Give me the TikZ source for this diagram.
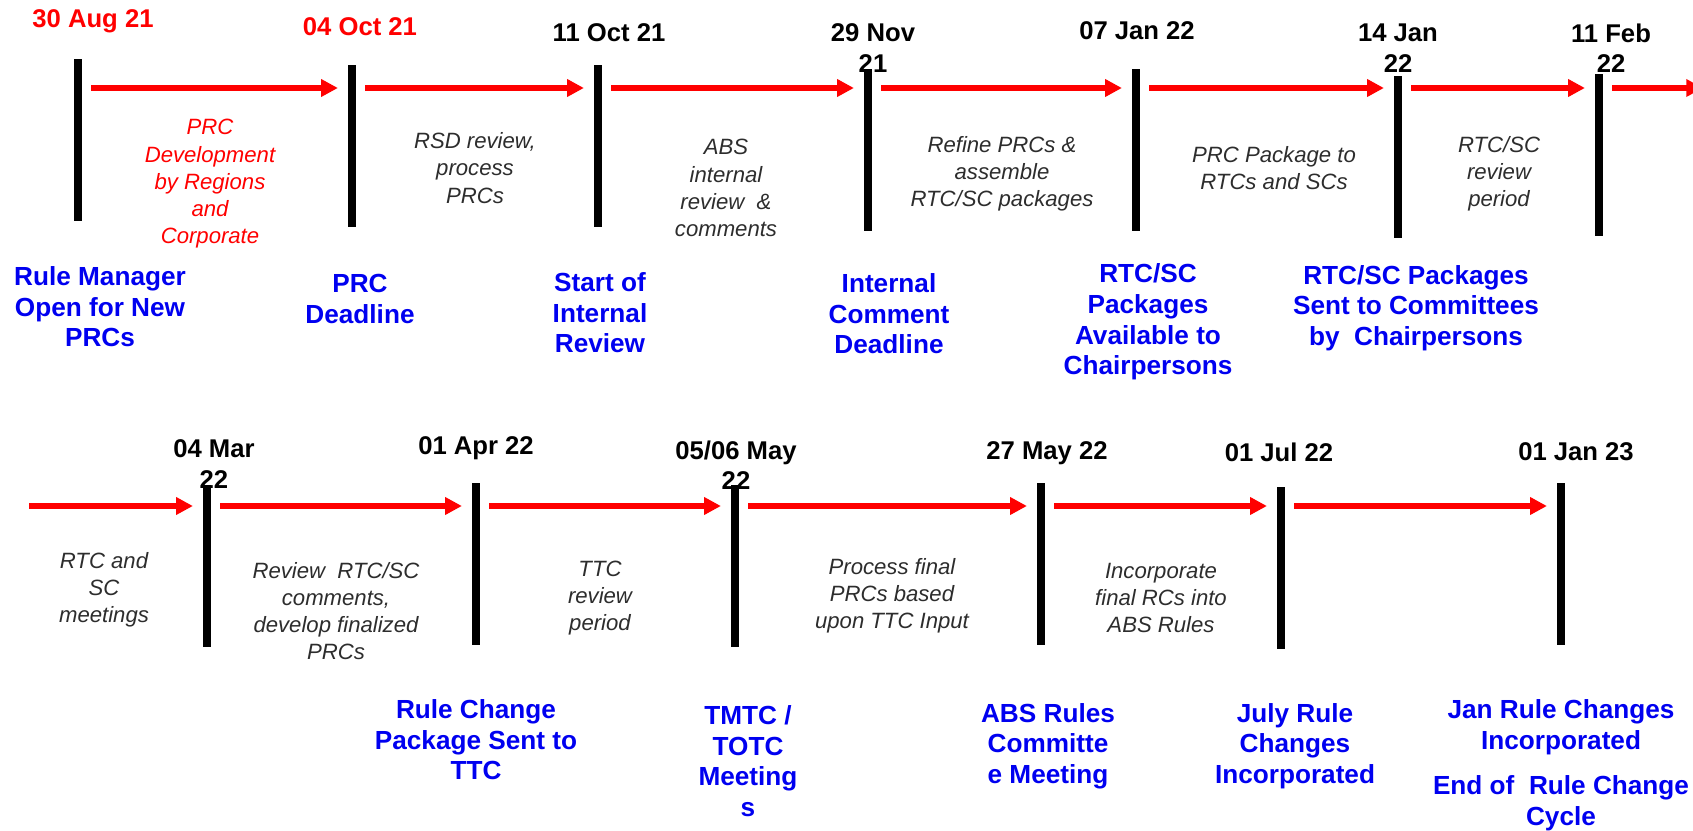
\documentclass[tikz,border=0pt]{standalone}
\usepackage{fontspec}
\setmainfont{Liberation Sans}
\usetikzlibrary{arrows.meta, positioning}
\definecolor{evblue}{RGB}{0,0,240}
\definecolor{notegray}{RGB}{45,45,45}
\tikzstyle{tick} = [rectangle, fill=black, inner sep=0pt, minimum width=0.15cm, minimum height=3.25cm]
\tikzstyle{flow} = [-{Triangle[length=9.5pt,width=9.5pt]}, line width=3.2pt, red, shorten <=0.18cm, shorten >=0.2cm]
\tikzstyle{datelbl} = [align=center, inner sep=0pt, font=\bfseries\fontsize{14.6pt}{17.4pt}\selectfont]
\tikzstyle{event} = [align=center, inner sep=0pt, text=evblue, font=\bfseries\fontsize{14.9pt}{17.4pt}\selectfont]
\tikzstyle{period} = [align=center, inner sep=0pt, text=notegray, font=\itshape\fontsize{12.6pt}{15.5pt}\selectfont]

\begin{document}
\begin{tikzpicture}[x=0.02cm, y=-0.02cm]
  \useasboundingbox (0,0) rectangle (1693,831);
  \coordinate (trow) at (0,88);
  \coordinate (brow) at (0,506);
  \coordinate (tend) at (1703,88);
  \coordinate (bstart) at (29,506);

  % first row: bars
  \node[tick] (b1) at (78,140) {};
  \node[tick] (b2) at (352,146) {};
  \node[tick] (b3) at (598,146) {};
  \node[tick] (b4) at (868,150) {};
  \node[tick] (b5) at (1136,150) {};
  \node[tick] (b6) at (1398,157) {};
  \node[tick] (b7) at (1599,155) {};

  % first row: dates
  \node[datelbl, text=red] (d1) at (93,21) {30 Aug 21};
  \node[datelbl, text=red] (d2) at (360,27) {04 Oct 21};
  \node[datelbl] (d3) at (609,33) {11 Oct 21};
  \node[datelbl] (d4) at (873,48) {29 Nov\\21};
  \node[datelbl] (d5) at (1137,31) {07 Jan 22};
  \node[datelbl] (d6) at (1398,48) {14 Jan\\22};
  \node[datelbl] (d7) at (1611,48) {11 Feb\\22};

  % first row: periods
  \node[period, text=red] (p1) at (210,184) {PRC\\Development\\by Regions\\and\\Corporate};
  \node[period] (p2) at (475,168) {RSD review,\\process\\PRCs};
  \node[period] (p3) at (726,188) {ABS\\internal\\review~ \&\\comments};
  \node[period] (p4) at (1002,174) {Refine PRCs \&\\assemble\\RTC/SC packages};
  \node[period] (p5) at (1274,168) {PRC Package to\\RTCs and SCs};
  \node[period] (p6) at (1499,174) {RTC/SC\\review\\period};

  % first row: milestones
  \node[event] (e1) at (100,307) {Rule Manager\\Open for New\\PRCs};
  \node[event] (e2) at (360,299) {PRC\\Deadline};
  \node[event] (e3) at (600,313) {Start of\\Internal\\Review};
  \node[event] (e4) at (889,314) {Internal\\Comment\\Deadline};
  \node[event] (e5) at (1148,322) {RTC/SC\\Packages\\Available to\\Chairpersons};
  \node[event] (e6) at (1416,308) {RTC/SC Packages\\Sent to Committees\\by~ Chairpersons};

  % second row: bars
  \node[tick] (b8) at (207,566) {};
  \node[tick] (b9) at (476,564) {};
  \node[tick] (b10) at (735,566) {};
  \node[tick] (b11) at (1041,564) {};
  \node[tick] (b12) at (1281,568) {};
  \node[tick] (b13) at (1561,564) {};

  % second row: dates
  \node[datelbl] (d8) at (214,464) {04 Mar\\22};
  \node[datelbl] (d9) at (476,448) {01 Apr 22};
  \node[datelbl] (d10) at (736,465) {05/06 May\\22};
  \node[datelbl] (d11) at (1047,453) {27 May 22};
  \node[datelbl] (d12) at (1279,452) {01 Jul 22};
  \node[datelbl] (d13) at (1576,452) {01 Jan 23};

  % second row: periods
  \node[period] (p7) at (104,590) {RTC and\\SC\\meetings};
  \node[period] (p8) at (336,611) {Review~ RTC/SC\\comments,\\develop finalized\\PRCs};
  \node[period] (p9) at (600,598) {TTC\\review\\period};
  \node[period] (p10) at (892,596) {Process final\\PRCs based\\upon TTC Input};
  \node[period] (p11) at (1161,598) {Incorporate\\final RCs into\\ABS Rules};

  % second row: milestones
  \node[event] (e7) at (476,740) {Rule Change\\Package Sent to\\TTC};
  \node[event] (e8) at (748,761) {TMTC /\\TOTC\\Meeting\\s};
  \node[event] (e9) at (1048,746) {ABS Rules\\Committe\\e Meeting};
  \node[event] (e10) at (1295,746) {July Rule\\Changes\\Incorporated};
  \node[event] (e11) at (1561,727) {Jan Rule Changes\\Incorporated};
  \node[event] (e12) at (1561,803) {End of~ Rule Change\\Cycle};

  % arrows
  \draw[flow] (b1.east |- trow) -- (b2.west |- trow);
  \draw[flow] (b2.east |- trow) -- (b3.west |- trow);
  \draw[flow] (b3.east |- trow) -- (b4.west |- trow);
  \draw[flow] (b4.east |- trow) -- (b5.west |- trow);
  \draw[flow] (b5.east |- trow) -- (b6.west |- trow);
  \draw[flow] (b6.east |- trow) -- (b7.west |- trow);
  \draw[flow, shorten >=0pt] (b7.east |- trow) -- (tend);

  \draw[flow, shorten <=0pt] (bstart) -- (b8.west |- brow);
  \draw[flow] (b8.east |- brow) -- (b9.west |- brow);
  \draw[flow] (b9.east |- brow) -- (b10.west |- brow);
  \draw[flow] (b10.east |- brow) -- (b11.west |- brow);
  \draw[flow] (b11.east |- brow) -- (b12.west |- brow);
  \draw[flow] (b12.east |- brow) -- (b13.west |- brow);
\end{tikzpicture}
\end{document}
